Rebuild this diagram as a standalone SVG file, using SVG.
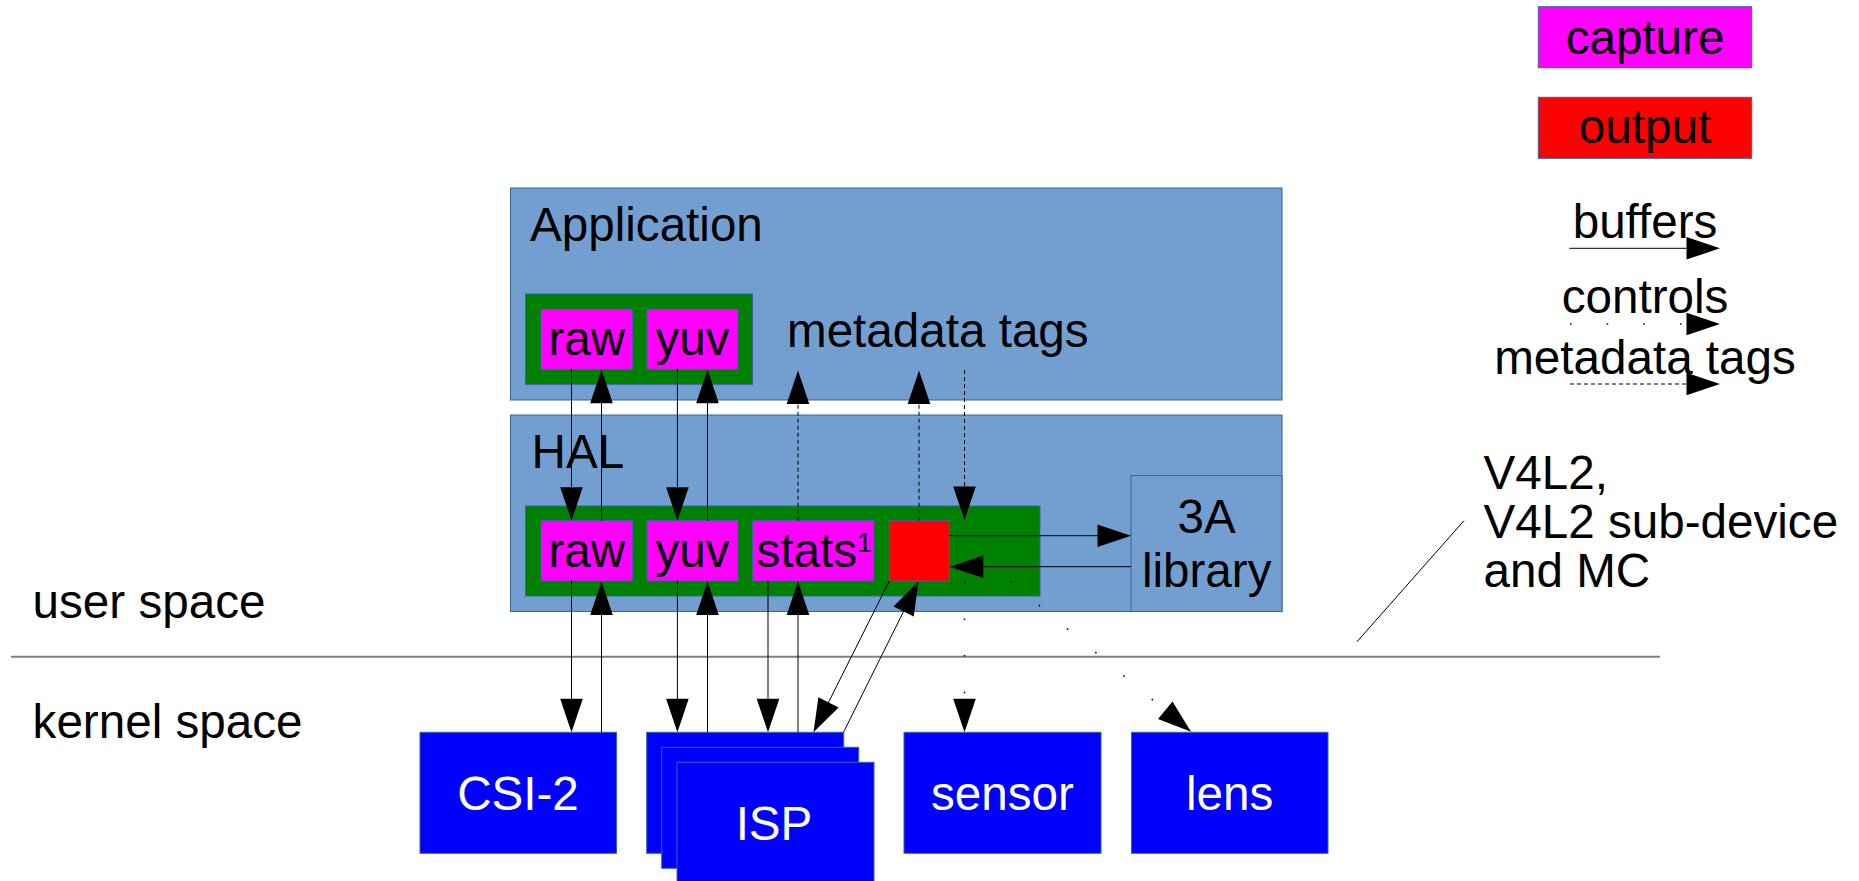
<svg xmlns="http://www.w3.org/2000/svg" width="1859" height="881" viewBox="0 0 1859 881">
  <style>
    text { font-family: "Liberation Sans", Arial, sans-serif; font-size: 47.6px; fill: #000; }
    .mid { text-anchor: middle; }
    .white { fill: #fff; }
    .layer { fill: #729fcf; stroke: #3465a4; stroke-width: 1; }
    .group { fill: #008000; stroke: #3465a4; stroke-width: 1; }
    .capture { fill: #ff00ff; stroke: #3465a4; stroke-width: 1; }
    .output { fill: #ff0000; stroke: #3465a4; stroke-width: 1; }
    .device { fill: #0000ff; stroke: #3465a4; stroke-width: 1; }
    .buf { fill: none; stroke: #000; stroke-width: 1; }
    .meta { fill: none; stroke: #000; stroke-width: 1; stroke-dasharray: 4 3; }
    .ctrl { fill: none; stroke: #000; stroke-width: 1.5; stroke-dasharray: 1.5 35.2; }
    .head { fill: #000; }
  </style>
  <defs>
    <!-- arrowhead, tip at the origin, pointing along +x -->
    <path id="ah" d="M0,0 L-33.5,-11.3 L-33.5,11.3 Z"/>
  </defs>

  <!-- user / kernel space split -->
  <g id="space-split">
    <line x1="11" y1="656.7" x2="1660" y2="656.7" stroke="#7f7f7f" stroke-width="2"/>
    <text x="32.6" y="618.3">user space</text>
    <text x="32.6" y="738.3">kernel space</text>
  </g>

  <!-- Application layer -->
  <g id="application">
    <rect class="layer" x="510.5" y="188" width="771.5" height="212"/>
    <text x="530" y="241">Application</text>
    <text x="787" y="346.7">metadata tags</text>
    <g id="app-buffers">
      <rect class="group" x="525.5" y="294" width="227" height="90.3"/>
      <g id="app-raw">
        <rect class="capture" x="541" y="309.3" width="91.7" height="60"/>
        <text class="mid" x="586.8" y="355">raw</text>
      </g>
      <g id="app-yuv">
        <rect class="capture" x="647" y="309.3" width="91" height="60"/>
        <text class="mid" x="692.5" y="355">yuv</text>
      </g>
    </g>
  </g>

  <!-- HAL layer -->
  <g id="hal">
    <rect class="layer" x="510.5" y="415" width="771.5" height="196.5"/>
    <text x="531.6" y="467.7">HAL</text>
    <g id="hal-buffers">
      <rect class="group" x="525.5" y="506" width="514.5" height="90"/>
      <g id="hal-raw">
        <rect class="capture" x="541" y="520.7" width="91.7" height="60.3"/>
        <text class="mid" x="586.8" y="566.7">raw</text>
      </g>
      <g id="hal-yuv">
        <rect class="capture" x="647" y="520.7" width="91" height="60.3"/>
        <text class="mid" x="692.5" y="566.7">yuv</text>
      </g>
      <g id="hal-stats">
        <rect class="capture" x="752.6" y="520.7" width="121.4" height="60.3"/>
        <text x="756.6" y="566.7">stats<tspan font-size="27" dy="-15">1</tspan></text>
      </g>
      <g id="hal-params">
        <rect class="output" x="889.3" y="520.7" width="60" height="60.3"/>
      </g>
    </g>
  </g>

  <!-- 3A library -->
  <g id="lib3a">
    <rect class="layer" x="1131" y="475.5" width="151" height="136"/>
    <text class="mid" x="1206.7" y="533">3A</text>
    <text class="mid" x="1206.7" y="586.7">library</text>
  </g>

  <!-- kernel devices -->
  <g id="csi2">
    <rect class="device" x="420" y="732.3" width="196.5" height="121"/>
    <text class="mid white" x="518" y="810">CSI-2</text>
  </g>
  <g id="isp">
    <rect class="device" x="646.7" y="732.3" width="197" height="121"/>
    <rect class="device" x="661.7" y="747.3" width="197" height="121"/>
    <rect class="device" x="677" y="762.3" width="197" height="125"/>
    <text class="mid white" x="774" y="840">ISP</text>
  </g>
  <g id="sensor">
    <rect class="device" x="904" y="732.3" width="197" height="121"/>
    <text class="mid white" x="1002.5" y="810">sensor</text>
  </g>
  <g id="lens">
    <rect class="device" x="1131.5" y="732.3" width="196.5" height="121"/>
    <text class="mid white" x="1229.7" y="810">lens</text>
  </g>

  <!-- API annotation -->
  <g id="api-note">
    <line x1="1357" y1="641.7" x2="1464" y2="520.7" stroke="#000" stroke-width="1"/>
    <text x="1483.6" y="489.3">V4L2,</text>
    <text x="1483.6" y="538.3">V4L2 sub-device</text>
    <text x="1483.6" y="586.7">and MC</text>
  </g>

  <!-- legend -->
  <g id="legend">
    <rect class="capture" x="1538.3" y="6.7" width="213.4" height="61"/>
    <text class="mid" x="1645" y="54.3">capture</text>
    <rect class="output" x="1538.3" y="97.3" width="213.4" height="61"/>
    <text class="mid" x="1645" y="143.3">output</text>
    <text class="mid" x="1645" y="238.3">buffers</text>
    <path class="buf" d="M1569.3,248.3 H1700"/>
    <use class="head" href="#ah" transform="translate(1720,248.3)"/>
    <text class="mid" x="1645" y="313.3">controls</text>
    <path class="ctrl" d="M1570,324 H1700"/>
    <use class="head" href="#ah" transform="translate(1720,324)"/>
    <text class="mid" x="1645" y="374.3">metadata tags</text>
    <path class="meta" d="M1570,384 H1690"/>
    <use class="head" href="#ah" transform="translate(1720,384)"/>
  </g>

  <!-- connectors -->
  <g id="connectors">
    <!-- buffers between application and HAL -->
    <path class="buf" d="M571.5,369.3 V505"/>
    <use class="head" href="#ah" transform="translate(571.5,520.7) rotate(90)"/>
    <path class="buf" d="M601.5,520.7 V385"/>
    <use class="head" href="#ah" transform="translate(601.5,369.8) rotate(-90)"/>
    <path class="buf" d="M677.4,369.3 V505"/>
    <use class="head" href="#ah" transform="translate(677.4,520.7) rotate(90)"/>
    <path class="buf" d="M707.5,520.7 V385"/>
    <use class="head" href="#ah" transform="translate(707.5,369.8) rotate(-90)"/>
    <!-- buffers between HAL and kernel -->
    <path class="buf" d="M571.5,581 V717"/>
    <use class="head" href="#ah" transform="translate(571.5,732.3) rotate(90)"/>
    <path class="buf" d="M601.5,732.3 V597"/>
    <use class="head" href="#ah" transform="translate(601.5,581.5) rotate(-90)"/>
    <path class="buf" d="M677.4,581 V717"/>
    <use class="head" href="#ah" transform="translate(677.4,732.3) rotate(90)"/>
    <path class="buf" d="M707.5,732.3 V597"/>
    <use class="head" href="#ah" transform="translate(707.5,581.5) rotate(-90)"/>
    <path class="buf" d="M768,581 V717"/>
    <use class="head" href="#ah" transform="translate(768,732.3) rotate(90)"/>
    <path class="buf" d="M798,732.3 V597"/>
    <use class="head" href="#ah" transform="translate(798,581.5) rotate(-90)"/>
    <path class="buf" d="M889.3,581 L820.5,718.3"/>
    <use class="head" href="#ah" transform="translate(813.5,732.3) rotate(116.6)"/>
    <path class="buf" d="M843.5,732.3 L911.5,595.5"/>
    <use class="head" href="#ah" transform="translate(918.5,581.5) rotate(-63.6)"/>
    <!-- HAL and 3A library -->
    <path class="buf" d="M949.3,535.7 H1115" stroke="#1f2f3f" stroke-width="1.6"/>
    <use class="head" href="#ah" transform="translate(1131,535.7)"/>
    <path class="buf" d="M1131,566.7 H965"/>
    <use class="head" href="#ah" transform="translate(949.8,566.7) rotate(180)"/>
    <!-- metadata tags -->
    <path class="meta" d="M798,520.7 V390"/>
    <use class="head" href="#ah" transform="translate(798,370.5) rotate(-90)"/>
    <path class="meta" d="M919,520.7 V390"/>
    <use class="head" href="#ah" transform="translate(919,370.5) rotate(-90)"/>
    <path class="meta" d="M964.5,370 V500"/>
    <use class="head" href="#ah" transform="translate(964.5,520) rotate(90)"/>
    <!-- controls -->
    <path class="ctrl" d="M964.5,581.7 V715"/>
    <use class="head" href="#ah" transform="translate(964.5,732.3) rotate(90)"/>
    <path class="ctrl" d="M1010.7,581.7 L1175,718.5"/>
    <use class="head" href="#ah" transform="translate(1191,731.7) rotate(39.8)"/>
  </g>
</svg>
